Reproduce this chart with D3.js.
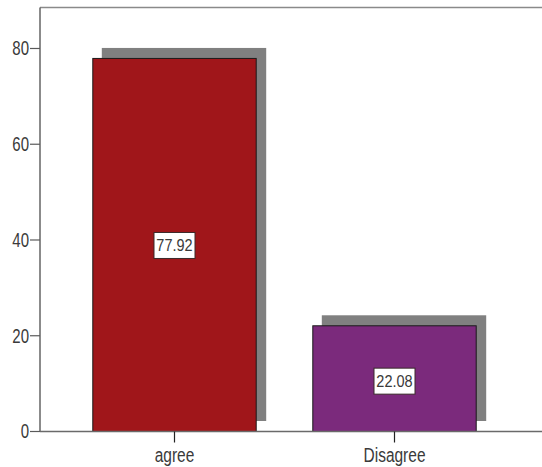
<!DOCTYPE html>
<html>
<head>
<meta charset="utf-8">
<script src="https://cdn.jsdelivr.net/npm/d3@7"></script>
<style>
  html, body { margin: 0; padding: 0; background: #fff; }
  svg { display: block; }
  text { font-family: "Liberation Sans", Arial, sans-serif; fill: #3a3a3a; }
</style>
</head>
<body>
<svg id="chart" width="542" height="467"></svg>
<script>
// Response categories and their percentages
const categories = ["agree", "Disagree"];
const percents = [77.92, 22.08];
const barColors = ["#A0161A", "#7B2A7C"];
const yTicks = [0, 20, 40, 60, 80];

const W = 542, H = 467;
const plotLeft = 40, plotTop = 7.5, plotBottom = 431.5;

const svg = d3.select("#chart");

const x = d3.scaleBand()
  .domain(categories)
  .range([plotLeft, 529])
  .paddingInner(0.2527)
  .paddingOuter(0.2377);

const y = d3.scaleLinear()
  .domain([0, 88.56])
  .range([plotBottom, plotTop]);

// Stretched text helper (tall, narrow glyphs)
function label(g, tx, ty, str, size, anchor, sy) {
  const t = g.append("g").attr("transform", `translate(${tx},${ty}) scale(1,${sy})`);
  t.append("text")
    .attr("text-anchor", anchor)
    .attr("dominant-baseline", "central")
    .style("font-size", size + "px")
    .text(str);
}

// Plot frame: top border
svg.append("line")
  .attr("x1", plotLeft).attr("x2", W)
  .attr("y1", plotTop).attr("y2", plotTop)
  .attr("stroke", "#8a8a8a").attr("stroke-width", 1.6);

const data = categories.map((c, i) => ({ cat: c, v: percents[i], color: barColors[i] }));

// Drop shadows behind bars
svg.append("g").selectAll("rect")
  .data(data).join("rect")
  .attr("x", d => x(d.cat) + 9.5)
  .attr("y", d => y(d.v) - 10.5)
  .attr("width", x.bandwidth())
  .attr("height", d => plotBottom - y(d.v))
  .attr("fill", "#808080");

// Bars
svg.append("g").selectAll("rect")
  .data(data).join("rect")
  .attr("x", d => x(d.cat) + 0.5)
  .attr("y", d => y(d.v))
  .attr("width", x.bandwidth() - 1)
  .attr("height", d => plotBottom - y(d.v))
  .attr("fill", d => d.color)
  .attr("stroke", "#1a1a1a")
  .attr("stroke-width", 1);

// Value labels in white boxes at bar middles
const vl = svg.append("g");
data.forEach(d => {
  const cx = x(d.cat) + x.bandwidth() / 2;
  const cy = (y(d.v) + plotBottom) / 2 + (d.v < 30 ? 2.5 : 0.5);
  vl.append("rect")
    .attr("x", cx - 20.5).attr("y", cy - 13)
    .attr("width", 41).attr("height", 26)
    .attr("fill", "#fff")
    .attr("stroke", "#3a2a2a").attr("stroke-width", 1);
  label(vl, cx, cy, d.v.toFixed(2), 14.5, "middle", 1.18);
});

// Y axis
const ya = svg.append("g");
ya.append("line")
  .attr("x1", plotLeft).attr("x2", plotLeft)
  .attr("y1", plotTop).attr("y2", plotBottom)
  .attr("stroke", "#5a5a5a").attr("stroke-width", 1.4);
yTicks.forEach(t => {
  ya.append("line")
    .attr("x1", plotLeft - 10).attr("x2", plotLeft)
    .attr("y1", y(t)).attr("y2", y(t))
    .attr("stroke", "#5a5a5a").attr("stroke-width", 1.2);
  label(ya, plotLeft - 11, y(t), String(t), 15, "end", 1.35);
});

// X axis
const xa = svg.append("g");
xa.append("line")
  .attr("x1", plotLeft).attr("x2", W)
  .attr("y1", plotBottom).attr("y2", plotBottom)
  .attr("stroke", "#6a6a6a").attr("stroke-width", 1.6);
categories.forEach(c => {
  const cx = x(c) + x.bandwidth() / 2;
  xa.append("line")
    .attr("x1", cx).attr("x2", cx)
    .attr("y1", plotBottom).attr("y2", plotBottom + 11)
    .attr("stroke", "#222").attr("stroke-width", 1.2);
  label(xa, cx, 455, c, 15.5, "middle", 1.25);
});
</script>
</body>
</html>
